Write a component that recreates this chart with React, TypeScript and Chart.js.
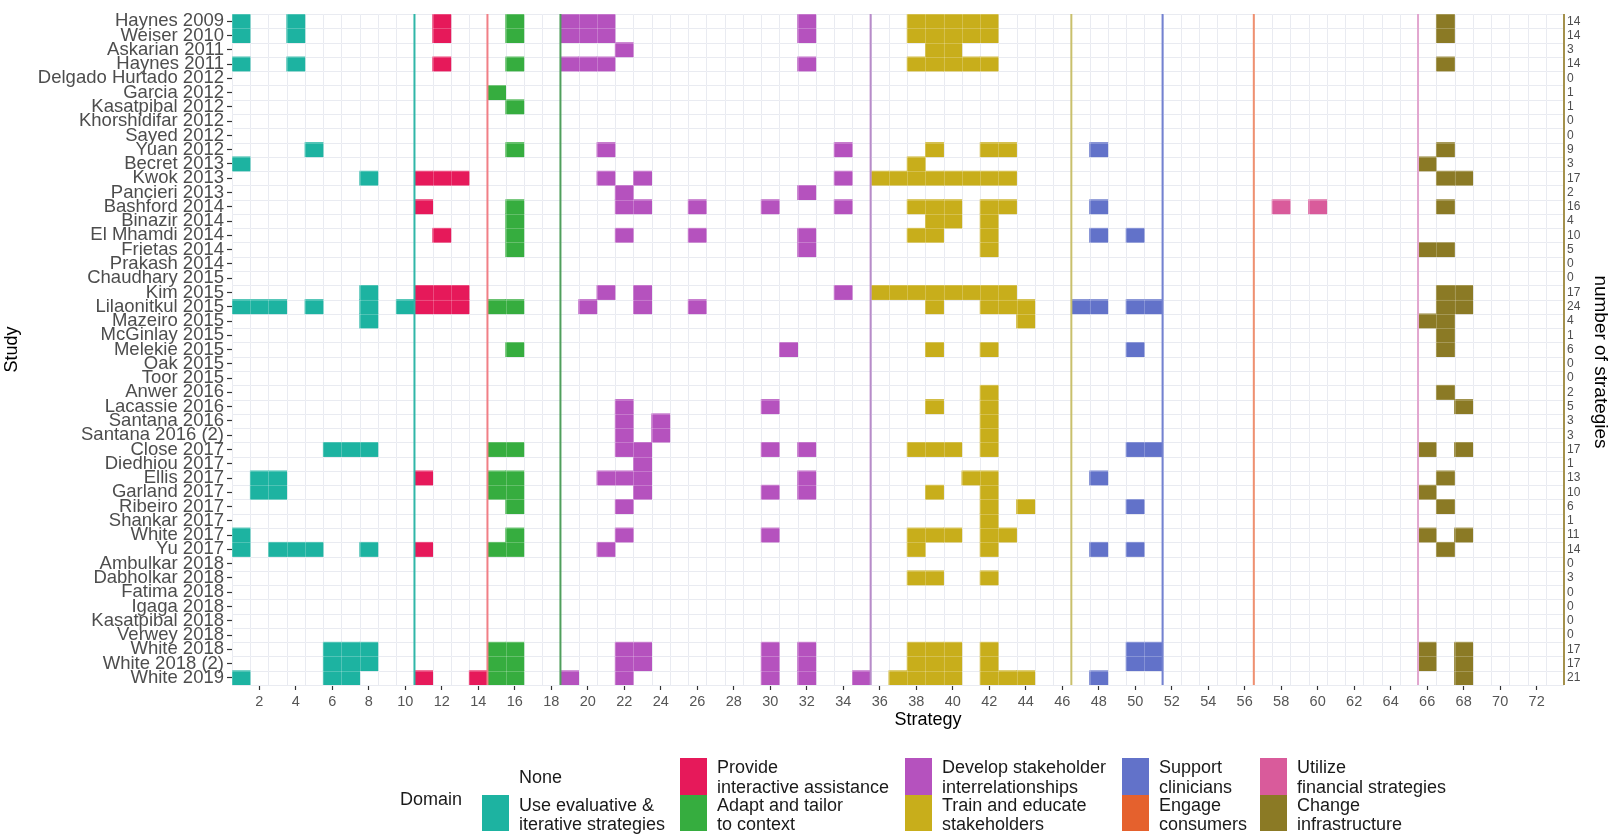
import React, { useEffect, useRef } from 'react';
import { Chart, registerables } from 'chart.js';

Chart.register(...registerables);

const FONT = '"Liberation Sans", Arial, Helvetica, sans-serif';

const studies: string[] = [
  'Haynes 2009', 'Weiser 2010', 'Askarian 2011', 'Haynes 2011', 'Delgado Hurtado 2012',
  'Garcia 2012', 'Kasatpibal 2012', 'Khorshidifar 2012', 'Sayed 2012', 'Yuan 2012',
  'Becret 2013', 'Kwok 2013', 'Pancieri 2013', 'Bashford 2014', 'Binazir 2014',
  'El Mhamdi 2014', 'Frietas 2014', 'Prakash 2014', 'Chaudhary 2015', 'Kim 2015',
  'Lilaonitkul 2015', 'Mazeiro 2015', 'McGinlay 2015', 'Melekie 2015', 'Oak 2015',
  'Toor 2015', 'Anwer 2016', 'Lacassie 2016', 'Santana 2016', 'Santana 2016 (2)',
  'Close 2017', 'Diedhiou 2017', 'Ellis 2017', 'Garland 2017', 'Ribeiro 2017',
  'Shankar 2017', 'White 2017', 'Yu 2017', 'Ambulkar 2018', 'Dabholkar 2018',
  'Fatima 2018', 'Igaga 2018', 'Kasatpibal 2018', 'Verwey 2018', 'White 2018',
  'White 2018 (2)', 'White 2019',
];

// strategies (1..73) used by each study, same order as `studies`
const studyStrategies: number[][] = [
  [1, 4, 12, 16, 19, 20, 21, 32, 38, 39, 40, 41, 42, 67],
  [1, 4, 12, 16, 19, 20, 21, 32, 38, 39, 40, 41, 42, 67],
  [22, 39, 40],
  [1, 4, 12, 16, 19, 20, 21, 32, 38, 39, 40, 41, 42, 67],
  [],
  [15],
  [16],
  [],
  [],
  [5, 16, 21, 34, 39, 42, 43, 48, 67],
  [1, 38, 66],
  [8, 11, 12, 13, 21, 23, 34, 36, 37, 38, 39, 40, 41, 42, 43, 67, 68],
  [22, 32],
  [11, 16, 22, 23, 26, 30, 34, 38, 39, 40, 42, 43, 48, 58, 60, 67],
  [16, 39, 40, 42],
  [12, 16, 22, 26, 32, 38, 39, 42, 48, 50],
  [16, 32, 42, 66, 67],
  [],
  [],
  [8, 11, 12, 13, 21, 23, 34, 36, 37, 38, 39, 40, 41, 42, 43, 67, 68],
  [1, 2, 3, 5, 8, 10, 11, 12, 13, 15, 16, 20, 23, 26, 39, 42, 43, 44, 47, 48, 50, 51, 67, 68],
  [8, 44, 66, 67],
  [67],
  [16, 31, 39, 42, 50, 67],
  [],
  [],
  [42, 67],
  [22, 30, 39, 42, 68],
  [22, 24, 42],
  [22, 24, 42],
  [6, 7, 8, 15, 16, 22, 23, 30, 32, 38, 39, 40, 42, 50, 51, 66, 68],
  [23],
  [2, 3, 11, 15, 16, 21, 22, 23, 32, 41, 42, 48, 67],
  [2, 3, 15, 16, 23, 30, 32, 39, 42, 66],
  [16, 22, 42, 44, 50, 67],
  [42],
  [1, 16, 22, 30, 38, 39, 40, 42, 43, 66, 68],
  [1, 3, 4, 5, 8, 11, 15, 16, 21, 38, 42, 48, 50, 67],
  [],
  [38, 39, 42],
  [],
  [],
  [],
  [],
  [6, 7, 8, 15, 16, 22, 23, 30, 32, 38, 39, 40, 42, 50, 51, 66, 68],
  [6, 7, 8, 15, 16, 22, 23, 30, 32, 38, 39, 40, 42, 50, 51, 66, 68],
  [1, 6, 7, 11, 14, 15, 16, 19, 22, 30, 32, 35, 37, 38, 39, 40, 42, 43, 44, 48, 68],
];

// "number of strategies" labels on the right axis
const strategyCounts: number[] = [
  14, 14, 3, 14, 0, 1, 1, 0, 0, 9, 3, 17, 2, 16, 4, 10, 5, 0, 0, 17, 24, 4, 1, 6,
  0, 0, 2, 5, 3, 3, 17, 1, 13, 10, 6, 1, 11, 14, 0, 3, 0, 0, 0, 0, 17, 17, 21,
];

const xTickValues: number[] = [
  2, 4, 6, 8, 10, 12, 14, 16, 18, 20, 22, 24, 26, 28, 30, 32, 34, 36,
  38, 40, 42, 44, 46, 48, 50, 52, 54, 56, 58, 60, 62, 64, 66, 68, 70, 72,
];

const domainNames: string[] = [
  'Use evaluative & iterative strategies',
  'Provide interactive assistance',
  'Adapt and tailor to context',
  'Develop stakeholder interrelationships',
  'Train and educate stakeholders',
  'Support clinicians',
  'Engage consumers',
  'Utilize financial strategies',
  'Change infrastructure',
];
const domainFirst: number[] = [1, 11, 15, 19, 36, 47, 52, 57, 66];
const domainLast: number[] = [10, 14, 18, 35, 46, 51, 56, 65, 73];

const domainColors: string[] = [
  '#1db3a1', '#e6195a', '#36ad3f', '#b552be', '#c8ae1b',
  '#6272c9', '#e5612d', '#d95b9b', '#8b7a25',
];
const domainLineColors: string[] = [
  '#30b6a8', '#f17f86', '#4f9f5c', '#b88bc9', '#c9c06c',
  '#7382d1', '#f0906f', '#e2a6cf', '#a4914c',
];

const legendTitle = 'Domain';
const legendNoneLabel = 'None';
const legendLines: string[][] = [
  ['Use evaluative &', 'iterative strategies'],
  ['Provide', 'interactive assistance'],
  ['Adapt and tailor', 'to context'],
  ['Develop stakeholder', 'interrelationships'],
  ['Train and educate', 'stakeholders'],
  ['Support', 'clinicians'],
  ['Engage', 'consumers'],
  ['Utilize', 'financial strategies'],
  ['Change', 'infrastructure'],
];

const xTitle = 'Strategy';
const yTitle = 'Study';
const y2Title = 'number of strategies';

function domainOf(s: number): number {
  for (let d = 0; d < domainFirst.length; d++) {
    if (s >= domainFirst[d] && s <= domainLast[d]) return d;
  }
  return -1;
}

function strokeTileGrid(chart: any, color: string) {
  const { ctx, chartArea, scales } = chart;
  const { left, right, top, bottom } = chartArea;
  const x = scales.x;
  const y = scales.y;
  ctx.strokeStyle = color;
  ctx.lineWidth = 1;
  ctx.beginPath();
  for (let s = 0; s <= 73; s++) {
    const px = Math.round(x.getPixelForValue(s + 0.5)) + 0.5;
    ctx.moveTo(px, top);
    ctx.lineTo(px, bottom);
  }
  for (let i = 0; i <= studies.length; i++) {
    const py = Math.round(y.getPixelForValue(i - 0.5)) + 0.5;
    ctx.moveTo(left, py);
    ctx.lineTo(right, py);
  }
  ctx.stroke();
}

const decorPlugin = {
  id: 'heatmapDecor',
  beforeDatasetsDraw(chart: any) {
    chart.ctx.save();
    strokeTileGrid(chart, '#e3e6ee');
    chart.ctx.restore();
  },
  afterDatasetsDraw(chart: any) {
    const { ctx, chartArea, scales } = chart;
    const { top, bottom } = chartArea;
    const x = scales.x;
    ctx.save();
    strokeTileGrid(chart, 'rgba(255,255,255,0.22)');
    ctx.lineWidth = 2;
    for (let d = 0; d < domainLast.length; d++) {
      const px = x.getPixelForValue(domainLast[d] + 0.5);
      ctx.strokeStyle = domainLineColors[d];
      ctx.beginPath();
      ctx.moveTo(px, top);
      ctx.lineTo(px, bottom);
      ctx.stroke();
    }
    ctx.restore();
  },
  afterDraw(chart: any) {
    const { ctx } = chart;
    ctx.save();
    ctx.fillStyle = '#000';
    ctx.font = `18px ${FONT}`;
    ctx.textAlign = 'center';
    ctx.textBaseline = 'middle';
    ctx.fillText(xTitle, 928, 720);

    ctx.save();
    ctx.translate(1600, 362);
    ctx.rotate(Math.PI / 2);
    ctx.font = `19px ${FONT}`;
    ctx.fillText(y2Title, 0, 0);
    ctx.restore();

    const keyW = 27;
    const keyTopY = 758;
    const keyMidY = 795;
    const keyBotY = 831;
    const colX = [482, 680, 905, 1122, 1260];
    ctx.font = `18px ${FONT}`;
    ctx.fillStyle = '#1a1a1a';
    ctx.textAlign = 'left';
    ctx.fillText(legendTitle, 400, 800);

    const entries: { color: string; lines: string[] }[] = [
      { color: '#ffffff', lines: [legendNoneLabel] },
    ];
    for (let d = 0; d < domainNames.length; d++) {
      entries.push({ color: domainColors[d], lines: legendLines[d] });
    }
    entries.forEach((e, k) => {
      const col = Math.floor(k / 2);
      const row = k % 2;
      const kx = colX[col];
      const ky0 = row === 0 ? keyTopY : keyMidY;
      const ky1 = row === 0 ? keyMidY : keyBotY;
      ctx.fillStyle = e.color;
      ctx.fillRect(kx, ky0, keyW, ky1 - ky0);
      ctx.fillStyle = '#1a1a1a';
      const tx = kx + 37;
      if (e.lines.length === 1) {
        ctx.fillText(e.lines[0], tx, row === 0 ? 778 : 813);
      } else {
        const ys = row === 0 ? [768, 788] : [806, 825];
        ctx.fillText(e.lines[0], tx, ys[0]);
        ctx.fillText(e.lines[1], tx, ys[1]);
      }
    });
    ctx.restore();
  },
};

export default function App() {
  const canvasRef = useRef<HTMLCanvasElement | null>(null);

  useEffect(() => {
    const canvas = canvasRef.current;
    if (!canvas) return;

    const datasets = domainNames.map((name, d) => {
      const data: { x: number[]; y: string }[] = [];
      studies.forEach((study, i) => {
        studyStrategies[i].forEach((s) => {
          if (domainOf(s) === d) data.push({ x: [s - 0.5, s + 0.5], y: study });
        });
      });
      return {
        label: name,
        data,
        backgroundColor: domainColors[d],
        borderWidth: 0,
        barPercentage: 1,
        categoryPercentage: 1,
        grouped: false,
      };
    });

    const chart = new Chart(canvas, {
      type: 'bar',
      data: { labels: studies, datasets: datasets as any },
      options: {
        indexAxis: 'y',
        animation: false,
        responsive: false,
        maintainAspectRatio: false,
        layout: { padding: { top: 8, left: 0, right: 0, bottom: 0 } },
        plugins: { legend: { display: false }, tooltip: { enabled: false } },
        scales: {
          x: {
            type: 'linear',
            position: 'bottom',
            min: 0.5,
            max: 73.5,
            afterBuildTicks: (s: any) => {
              s.ticks = xTickValues.map((v) => ({ value: v }));
            },
            ticks: {
              autoSkip: false,
              maxRotation: 0,
              font: { family: FONT, size: 14.5 },
              color: '#555555',
              padding: 3,
            },
            grid: {
              drawOnChartArea: false,
              drawTicks: true,
              tickLength: 5,
              tickColor: '#333333',
              tickWidth: 1.2,
            },
            border: { display: false },
            afterFit: (s: any) => {
              s.height = 149;
            },
          },
          y: {
            type: 'category',
            position: 'left',
            offset: true,
            ticks: {
              autoSkip: false,
              font: { family: FONT, size: 18.5 },
              color: '#4d4d4d',
              padding: 3,
            },
            grid: {
              drawOnChartArea: false,
              offset: false,
              drawTicks: true,
              tickLength: 5,
              tickColor: '#333333',
              tickWidth: 1.2,
            },
            border: { display: false },
            title: {
              display: true,
              text: yTitle,
              color: '#000000',
              font: { family: FONT, size: 18 },
              padding: { top: 1, bottom: 0 },
            },
            afterFit: (s: any) => {
              s.width = 232;
            },
          },
          y2: {
            type: 'category',
            position: 'right',
            labels: strategyCounts.map(String),
            offset: true,
            ticks: {
              autoSkip: false,
              font: { family: FONT, size: 12 },
              color: '#4d4d4d',
              padding: 3,
            },
            grid: { drawOnChartArea: false, drawTicks: false, offset: false },
            border: { display: false },
            afterFit: (s: any) => {
              s.width = 50;
            },
          },
        } as any,
      },
      plugins: [decorPlugin],
    });

    return () => {
      chart.destroy();
    };
  }, []);

  return (
    <div style={{ position: 'fixed', left: 0, top: 0, width: 1614, height: 834, background: '#ffffff' }}>
      <canvas ref={canvasRef} width={1614} height={834} style={{ display: 'block' }} />
    </div>
  );
}
